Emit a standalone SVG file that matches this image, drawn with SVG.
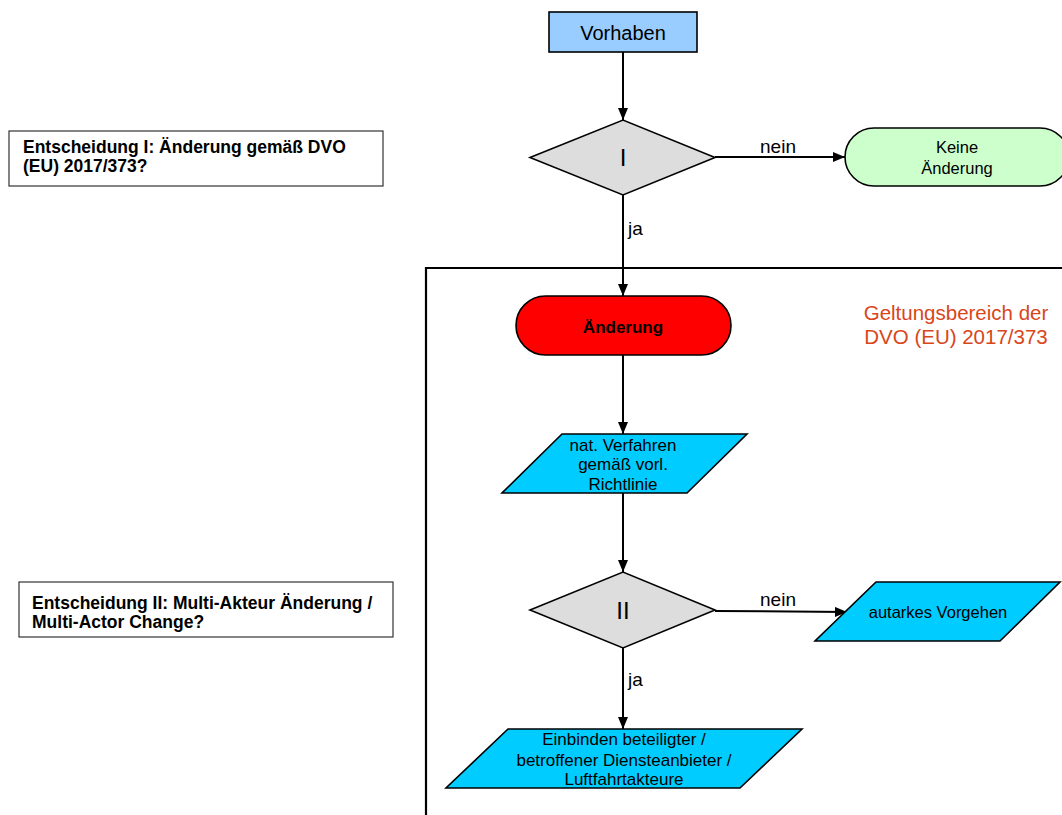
<svg xmlns="http://www.w3.org/2000/svg" width="1062" height="815" viewBox="0 0 1062 815">
<style>
text{font-family:"Liberation Sans",Arial,sans-serif;fill:#000}
.shape{stroke:#000;stroke-width:1.6}
.lbl{font-size:17.5px;font-weight:bold}
.c{text-anchor:middle}
.edge{stroke:#000;stroke-width:2;fill:none}
.elbl{font-size:19px}
.t17{font-size:17px}
</style>
<defs>
<marker id="ah" markerUnits="userSpaceOnUse" markerWidth="12" markerHeight="10" refX="12" refY="5" orient="auto">
<path d="M0,0 L12,5 L0,10 Z" fill="#000"/>
</marker>
</defs>
<rect width="1062" height="815" fill="#fff"/>

<g id="frame">
<path d="M426,820 L426,268 L1070,268" fill="none" stroke="#000" stroke-width="2.2"/>
<text x="956" y="320" class="c" style="font-size:20.5px;fill:#d9461a">Geltungsbereich der</text>
<text x="956" y="344" class="c" style="font-size:20.5px;fill:#d9461a">DVO (EU) 2017/373</text>
</g>

<g id="note1">
<rect x="9" y="131" width="374" height="55" fill="#fff" stroke="#333" stroke-width="1.2"/>
<text x="23" y="153" class="lbl">Entscheidung I: Änderung gemäß DVO</text>
<text x="23" y="172" class="lbl">(EU) 2017/373?</text>
</g>

<g id="note2">
<rect x="19" y="582" width="374" height="55" fill="#fff" stroke="#333" stroke-width="1.2"/>
<text x="32" y="609" class="lbl">Entscheidung II: Multi-Akteur Änderung /</text>
<text x="32" y="628" class="lbl">Multi-Actor Change?</text>
</g>

<g id="connectors">
<line class="edge" x1="623" y1="52" x2="623" y2="120" marker-end="url(#ah)"/>
<line class="edge" x1="715" y1="157" x2="845" y2="157" marker-end="url(#ah)"/>
<line class="edge" x1="623" y1="195" x2="623" y2="296" marker-end="url(#ah)"/>
<line class="edge" x1="623" y1="355" x2="623" y2="434" marker-end="url(#ah)"/>
<line class="edge" x1="623" y1="493" x2="623" y2="572" marker-end="url(#ah)"/>
<line class="edge" x1="715" y1="611" x2="847" y2="612" marker-end="url(#ah)"/>
<line class="edge" x1="623" y1="648" x2="623" y2="729" marker-end="url(#ah)"/>
<text x="778" y="153" class="c elbl">nein</text>
<text x="628" y="235" class="elbl">ja</text>
<text x="778" y="606" class="c elbl">nein</text>
<text x="628" y="686" class="elbl">ja</text>
</g>

<g id="vorhaben">
<rect x="549" y="12" width="148" height="40" fill="#99ccff" class="shape"/>
<text x="623" y="40" class="c" style="font-size:20px">Vorhaben</text>
</g>

<g id="decision1">
<polygon points="530,157.5 623,120 715,157.5 623,195" fill="#dddddd" class="shape"/>
<text x="623" y="166" class="c" style="font-size:24px">I</text>
</g>

<g id="keine">
<rect x="845" y="128" width="224" height="58" rx="29" ry="29" fill="#ccffcc" class="shape"/>
<text x="957" y="153" class="c" style="font-size:16.5px">Keine</text>
<text x="957" y="174" class="c" style="font-size:16.5px">Änderung</text>
</g>

<g id="aenderung">
<rect x="516" y="296" width="215" height="59" rx="29.5" ry="29.5" fill="#ff0000" class="shape"/>
<text x="623" y="333" class="c" style="font-size:17px;font-weight:bold">Änderung</text>
</g>

<g id="verfahren">
<polygon points="562,434 747,434 687,493 502,493" fill="#00ccff" class="shape"/>
<text x="623" y="451" class="c t17">nat. Verfahren</text>
<text x="623" y="470" class="c t17">gemäß vorl.</text>
<text x="623" y="490" class="c t17">Richtlinie</text>
</g>

<g id="decision2">
<polygon points="530,610 623,572 715,610 623,648" fill="#dddddd" class="shape"/>
<text x="623" y="619" class="c" style="font-size:24px">II</text>
</g>

<g id="autark">
<polygon points="876,582 1060,582 1000,641 815,641" fill="#00ccff" class="shape"/>
<text x="938" y="618" class="c" style="font-size:16.5px">autarkes Vorgehen</text>
</g>

<g id="einbinden">
<polygon points="508,729 802,729 740,788 446,788" fill="#00ccff" class="shape"/>
<text x="624" y="745" class="c t17">Einbinden beteiligter /</text>
<text x="624" y="766" class="c t17">betroffener Diensteanbieter /</text>
<text x="624" y="785" class="c t17">Luftfahrtakteure</text>
</g>
</svg>
